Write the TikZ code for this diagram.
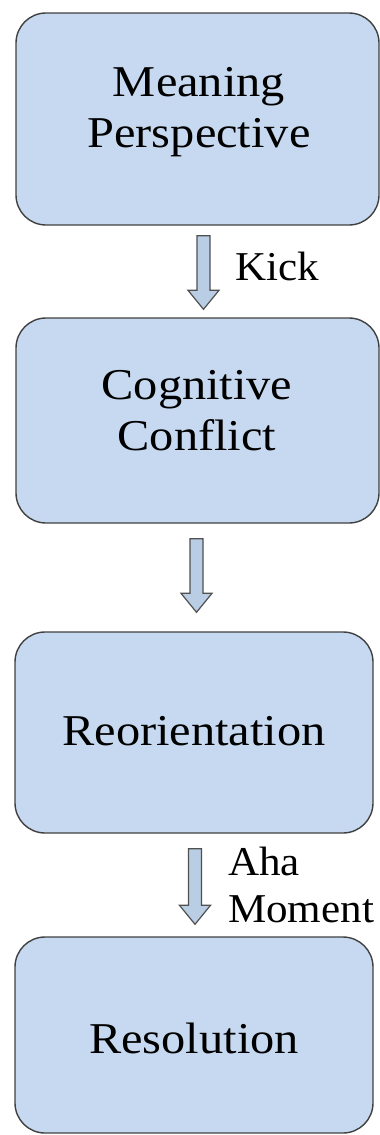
\documentclass[tikz,border=0pt]{standalone}
\usepackage{fontspec}
\setmainfont{Liberation Serif}
\newfontfamily\boxfont[FakeStretch=1.1]{Liberation Serif}
\newfontfamily\lblfont[FakeStretch=1.05]{Liberation Serif}
\usetikzlibrary{calc}
\definecolor{boxfill}{RGB}{198,217,240}
\definecolor{boxline}{RGB}{64,64,64}
\definecolor{arrfill}{RGB}{185,205,229}
\definecolor{arrline}{RGB}{80,80,80}
\tikzset{
  stagebox/.style={draw=boxline, fill=boxfill, line width=1.4pt, rounded corners=30pt, inner sep=0pt},
  stagetext/.style={font=\boxfont\fontsize{44}{50.6}\selectfont, align=center, inner sep=0pt, anchor=base},
  lbltext/.style={font=\lblfont\fontsize{41}{47}\selectfont, align=left, inner sep=0pt, anchor=base west},
  blockarr/.style={draw=arrline, fill=arrfill, line width=1.2pt, line join=miter}
}
\newcommand\blockarrow[2]{%
  \draw[blockarr] let \p1=(#1), \p2=(#2) in
    (\x1-6.5pt,\y1) -- (\x1+6.5pt,\y1) -- (\x1+6.5pt,\y2+19pt) -- (\x1+15.5pt,\y2+19pt)
    -- (\x2,\y2) -- (\x1-15.5pt,\y2+19pt) -- (\x1-6.5pt,\y2+19pt) -- cycle;}
\begin{document}
\begin{tikzpicture}[x=1pt,y=-1pt]
\useasboundingbox (0,0) rectangle (380,1135);
% boxes
\node[stagebox, minimum width=363pt, minimum height=212pt] (b1) at (197.5,119) {};
\node[stagebox, minimum width=363pt, minimum height=205pt] (b2) at (197.5,420.5) {};
\node[stagebox, minimum width=358pt, minimum height=201pt] (b3) at (194,732.5) {};
\node[stagebox, minimum width=358pt, minimum height=196pt] (b4) at (194,1035) {};
% texts (base anchor = baseline of the last line)
\node[stagetext] (t1) at (199,147) {Meaning\\Perspective};
\node[stagetext] (t2) at (197,450) {Cognitive\\Conflict};
\node[stagetext] (t3) at (194,745) {Reorientation};
\node[stagetext] (t4) at (194,1053) {Resolution};
% arrows
\coordinate (a1s) at ($(b1.south)+(6,10)$);
\coordinate (a1e) at ($(b2.north)+(6,-8)$);
\coordinate (a2s) at ($(b2.south)+(-1,15)$);
\coordinate (a2e) at ($(b3.north)+(2.5,-19)$);
\coordinate (a3s) at ($(b3.south)+(1,15)$);
\coordinate (a3e) at ($(b4.north)+(1,-12)$);
\blockarrow{a1s}{a1e}
\blockarrow{a2s}{a2e}
\blockarrow{a3s}{a3e}
% labels
\node[lbltext] (l1) at (235,280) {Kick};
\node[lbltext] (l2) at (228,922) {Aha\\Moment};
\end{tikzpicture}
\end{document}
